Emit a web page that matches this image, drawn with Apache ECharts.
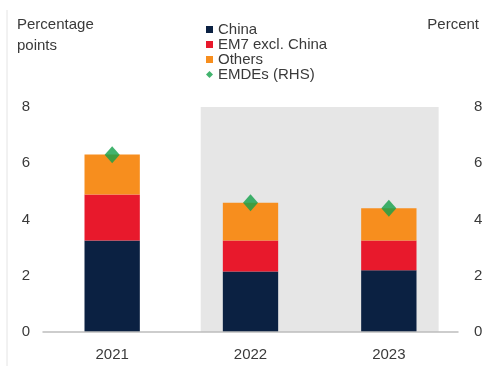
<!DOCTYPE html>
<html>
<head>
<meta charset="utf-8">
<script src="https://cdn.jsdelivr.net/npm/echarts@6/dist/echarts.min.js"></script>
<style>
  html, body { margin: 0; padding: 0; background: #ffffff; }
  #chart { width: 491px; height: 366px; }
</style>
</head>
<body>
<div id="chart"></div>
<script>
// Contributions to EMDE growth (percentage points) and EMDE growth (percent)
const years = ['2021', '2022', '2023'];
const china = [3.25, 2.15, 2.2];
const em7ExChina = [1.64, 1.1, 1.05];
const others = [1.42, 1.35, 1.15];
const emdes = [6.3, 4.6, 4.4];
const yTicks = [0, 2, 4, 6, 8];
const forecastYears = ['2022', '2023'];

const font = 'Liberation Sans, Arial, sans-serif';
const textColor = '#3a3a3a';

const chart = echarts.init(document.getElementById('chart'), null, { renderer: 'canvas' });

const yMin = yTicks[0];
const yMax = yTicks[yTicks.length - 1];
const yStep = yTicks[1] - yTicks[0];

const shadeStart = years.indexOf(forecastYears[0]);
const shadeEnd = years.indexOf(forecastYears[forecastYears.length - 1]);

chart.setOption({
  animation: false,
  backgroundColor: '#ffffff',
  textStyle: { fontFamily: font },
  title: [
    {
      text: 'Percentage\npoints',
      left: 12, top: 9,
      textStyle: { fontFamily: font, fontSize: 15, fontWeight: 'normal', color: textColor, lineHeight: 21 }
    },
    {
      text: 'Percent',
      right: 7, top: 12,
      textStyle: { fontFamily: font, fontSize: 15, fontWeight: 'normal', color: textColor }
    }
  ],
  legend: {
    orient: 'vertical',
    left: 206, top: 22,
    itemWidth: 7, itemHeight: 7,
    itemGap: 0,
    padding: 0,
    textStyle: { fontFamily: font, fontSize: 15, color: textColor, lineHeight: 14.5 },
    data: [
      { name: 'China', icon: 'rect' },
      { name: 'EM7 excl. China', icon: 'rect' },
      { name: 'Others', icon: 'rect' },
      { name: 'EMDEs (RHS)', icon: 'diamond' }
    ]
  },
  grid: { left: 43, right: 33, top: 107, bottom: 34, containLabel: false },
  xAxis: {
    type: 'category',
    data: years,
    axisLine: { show: true, lineStyle: { color: '#bdbdbd', width: 1.5 } },
    axisTick: { show: false },
    axisLabel: { fontFamily: font, fontSize: 15, color: textColor, margin: 15 },
    splitLine: { show: false },
    z: 5
  },
  yAxis: [
    {
      type: 'value', min: yMin, max: yMax, interval: yStep,
      axisLine: { show: false }, axisTick: { show: false }, splitLine: { show: false },
      axisLabel: { fontFamily: font, fontSize: 15, color: textColor, margin: 13 }
    },
    {
      type: 'value', min: yMin, max: yMax, interval: yStep, position: 'right',
      axisLine: { show: false }, axisTick: { show: false }, splitLine: { show: false },
      axisLabel: { fontFamily: font, fontSize: 15, color: textColor, margin: 16 }
    }
  ],
  series: [
    {
      // shaded forecast period
      type: 'custom',
      name: 'forecast',
      silent: true,
      z: 0,
      data: [[shadeStart, yMax, shadeEnd]],
      encode: { x: 0, y: 1 },
      renderItem: function (params, api) {
        const band = api.size([1, 0])[0];
        const topLeft = api.coord([api.value(0), api.value(1)]);
        const bottomRight = api.coord([api.value(2), 0]);
        const pad = band * 0.36;
        return {
          type: 'rect',
          shape: {
            x: topLeft[0] - pad,
            y: topLeft[1],
            width: bottomRight[0] - topLeft[0] + 2 * pad,
            height: bottomRight[1] - topLeft[1]
          },
          style: { fill: '#e6e6e6' }
        };
      }
    },
    {
      name: 'China', type: 'bar', stack: 'c', barWidth: '40%', z: 2,
      itemStyle: { color: '#0b2142' }, data: china
    },
    {
      name: 'EM7 excl. China', type: 'bar', stack: 'c', barWidth: '40%', z: 2,
      itemStyle: { color: '#e8192c' }, data: em7ExChina
    },
    {
      name: 'Others', type: 'bar', stack: 'c', barWidth: '40%', z: 2,
      itemStyle: { color: '#f78e1e' }, data: others
    },
    {
      name: 'EMDEs (RHS)', type: 'scatter', yAxisIndex: 1, z: 4,
      symbol: 'diamond', symbolSize: [15, 17],
      itemStyle: { color: '#13a04a' }, data: emdes
    }
  ],
  graphic: [
    {
      type: 'line', silent: true,
      shape: { x1: 7, y1: 10, x2: 7, y2: 366 },
      style: { stroke: '#e4e4e4', lineWidth: 1 }
    }
  ]
});
</script>
</body>
</html>
